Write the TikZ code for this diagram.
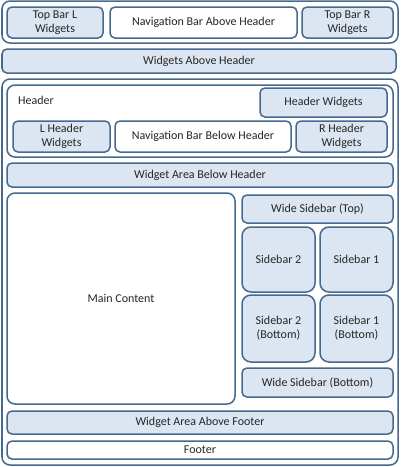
\documentclass[tikz,border=0pt]{standalone}
\usepackage{fontspec}
\setmainfont{Carlito}
\definecolor{boxfill}{HTML}{DCE6F2}
\definecolor{boxline}{HTML}{46698F}
\definecolor{boxtext}{HTML}{262626}

\begin{document}
\begin{tikzpicture}[x=1pt, y=-1pt,
    area/.style={draw=boxline, line width=1.5pt, rounded corners=5pt,
        inner sep=0pt, align=center, text=boxtext,
        font=\fontsize{12}{14}\selectfont},
    blue area/.style={area, fill=boxfill},
    white area/.style={area, fill=white},
    frame/.style={white area, rounded corners=8pt},
    sidebar/.style={blue area, rounded corners=9pt}]
    \useasboundingbox (0,0) rectangle (400,467);

    % the bar at the very top
    \node[frame, minimum width=396pt, minimum height=42pt] (topbar) at (200,22) {};
    \node[blue area, minimum width=96pt, minimum height=31pt] (topl) at (55,22.5) {Top Bar L\\Widgets};
    \node[white area, minimum width=187pt, minimum height=31pt] (navabove) at (203.5,22.5) {Navigation Bar Above Header};
    \node[blue area, minimum width=91pt, minimum height=31pt] (topr) at (347.5,22.5) {Top Bar R\\Widgets};

    \node[blue area, minimum width=394pt, minimum height=24pt] (wabove) at (199,61) {Widgets Above Header};

    % the page frame and the header in it
    \node[frame, minimum width=396pt, minimum height=386pt] (page) at (200,272) {};
    \node[frame, minimum width=386pt, minimum height=72pt] (header) at (200,121) {};
    \node[anchor=west, text=boxtext, font=\fontsize{12}{14}\selectfont, inner sep=0pt] (headerlabel) at (18,100) {Header};
    \node[blue area, minimum width=127pt, minimum height=29pt] (hwidgets) at (323.5,102.5) {Header Widgets};
    \node[blue area, minimum width=97pt, minimum height=31pt] (lheader) at (61.5,136.5) {L Header\\Widgets};
    \node[white area, minimum width=176pt, minimum height=31pt] (navbelow) at (203,136.5) {Navigation Bar Below Header};
    \node[blue area, minimum width=91pt, minimum height=31pt] (rheader) at (341.5,136.5) {R Header\\Widgets};

    \node[blue area, minimum width=386pt, minimum height=24pt] (wbelow) at (200,175) {Widget Area Below Header};

    % content and sidebars
    \node[frame, minimum width=228pt, minimum height=211pt] (content) at (121,298.5) {Main Content};
    \node[blue area, minimum width=151pt, minimum height=28pt] (widetop) at (317.5,209) {Wide Sidebar (Top)};
    \node[sidebar, minimum width=73pt, minimum height=65pt] (side2) at (278.5,259.5) {Sidebar 2};
    \node[sidebar, minimum width=73pt, minimum height=65pt] (side1) at (356.5,259.5) {Sidebar 1};
    \node[sidebar, minimum width=73pt, minimum height=67pt] (side2b) at (278.5,328.5) {Sidebar 2\\(Bottom)};
    \node[sidebar, minimum width=73pt, minimum height=67pt] (side1b) at (356.5,328.5) {Sidebar 1\\(Bottom)};
    \node[blue area, minimum width=151pt, minimum height=29pt] (widebottom) at (317.5,382.5) {Wide Sidebar (Bottom)};

    % the footer rows
    \node[blue area, minimum width=386pt, minimum height=23pt] (wfooter) at (200,422.5) {Widget Area Above Footer};
    \node[white area, minimum width=386pt, minimum height=18pt] (footer) at (200,450) {Footer};
\end{tikzpicture}
\end{document}
